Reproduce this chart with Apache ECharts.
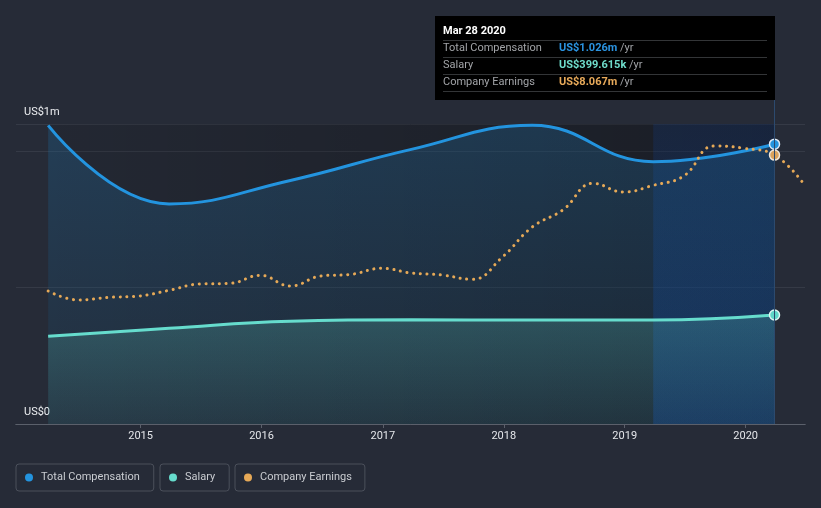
<!DOCTYPE html>
<html><head><meta charset="utf-8">
<script src="https://cdn.jsdelivr.net/npm/echarts@6/dist/echarts.min.js"></script>
<style>html,body{margin:0;padding:0;background:#262b37;}#c{width:821px;height:508px;}</style>
</head><body><div id="c"></div>
<script>
// ---- data ----
const compDates = ['2014-03-28','2015-03-28','2016-03-28','2017-03-28','2018-03-28','2019-03-28','2020-03-28'];
const totalComp = [1095000, 807000, 893000, 1007000, 1095000, 962000, 1026000];
const salary = [322000, 351000, 377000, 382000, 381000, 381000, 399615];
const earningsDates = ['2014-03-28','2014-06-28','2014-09-28','2014-12-28',
  '2015-03-28','2015-06-28','2015-09-28','2015-12-28',
  '2016-03-28','2016-06-28','2016-09-28','2016-12-28',
  '2017-03-28','2017-06-28','2017-09-28','2017-12-28',
  '2018-03-28','2018-06-28','2018-09-28','2018-12-28',
  '2019-03-28','2019-06-28','2019-09-28','2019-12-28',
  '2020-03-28','2020-06-28'];
const earnings = [3990000, 3720000, 3800000, 3840000,
  4010000, 4200000, 4220000, 4460000,
  4140000, 4440000, 4490000, 4670000,
  4530000, 4470000, 4340000, 5010000,
  5910000, 6420000, 7220000, 6960000,
  7160000, 7440000, 8340000, 8270000,
  8067000, 7150000];
const yearTicks = ['2015','2016','2017','2018','2019','2020'];
const yTickLabels = ['US$0', 'US$1m'];
const legendNames = ['Total Compensation', 'Salary', 'Company Earnings'];
const tooltipDate = 'Mar 28 2020';
const xMin = '2013-12-21', xMax = '2020-06-28';
const yMax = 1100000, yInterval = 500000, earnMax = 9000000;

// ---- chart ----
const C_BLUE = '#2394df', C_TEAL = '#66dccd', C_ORANGE = '#e6a957';
const G = echarts.graphic.LinearGradient;
const ts = s => echarts.time.parse(s).getTime();
const yearTs = yearTicks.map(y => ts(y + '-01-01'));
const chart = echarts.init(document.getElementById('c'), null, {width: 821, height: 508});
const last = compDates.length - 1;
const eLastIdx = earningsDates.indexOf(compDates[last]);

function mp(coord, fill, border) {
  return {silent: true, symbol: 'circle', symbolSize: 10, label: {show: false},
    itemStyle: {color: fill, borderColor: border, borderWidth: 1.5},
    data: [{coord: coord}]};
}

const option = {
  backgroundColor: '#262b37',
  animation: false,
  textStyle: {fontFamily: 'Roboto'},
  grid: {left: 16, right: 16, top: 124, bottom: 84},
  xAxis: [{
    type: 'value', min: ts(xMin), max: ts(xMax),
    axisLine: {lineStyle: {color: '#5b606b', width: 1}},
    axisTick: {show: true, length: 4, lineStyle: {color: '#5b606b'}, customValues: yearTs},
    axisLabel: {customValues: yearTs, formatter: v => yearTicks[yearTs.indexOf(v)] || '',
      color: '#e4e6ea', fontSize: 11, margin: 7, fontFamily: 'Roboto'},
    splitLine: {show: false}
  }, {
    type: 'value', position: 'top', min: ts(xMin), max: ts(xMax), z: 10,
    axisLine: {show: true, lineStyle: {color: '#5b606b', width: 1}},
    axisTick: {show: false}, axisLabel: {show: false}, splitLine: {show: false}
  }],
  yAxis: [{
    type: 'value', min: 0, max: yMax, interval: yInterval,
    axisLine: {show: false}, axisTick: {show: false},
    axisLabel: {inside: true, margin: 8, verticalAlign: 'bottom', padding: [0, 0, 5, 0], lineHeight: 13,
      color: '#eceef1', fontSize: 11, fontFamily: 'Roboto', showMinLabel: true, showMaxLabel: true,
      formatter: v => v === 0 ? yTickLabels[0] : (v === yMax ? yTickLabels[1] : '')},
    splitLine: {show: true, lineStyle: {color: '#353a46', width: 1}}
  }, {
    type: 'value', min: 0, max: earnMax, show: false, splitLine: {show: false}
  }],
  legend: legendNames.map((n, i) => ({
    data: [n], left: [16, 160, 235][i], top: 464, orient: 'horizontal',
    icon: 'circle', itemWidth: 14, itemHeight: 8, padding: [7, [14, 14, 13][i], 7, 9],
    borderColor: '#4b505b', borderWidth: 1, borderRadius: 3, selectedMode: false,
    textStyle: {color: '#c9ccd1', fontSize: 11, lineHeight: 13, fontFamily: 'Roboto'}
  })),
  series: [{
    name: legendNames[0], type: 'line', z: 2,
    data: compDates.map((d, i) => [ts(d), totalComp[i]]),
    smooth: 0.45, symbol: 'none',
    lineStyle: {color: C_BLUE, width: 3}, itemStyle: {color: C_BLUE},
    areaStyle: {color: new G(0, 0, 0, 1, [{offset: 0, color: 'rgba(35,148,223,0.29)'}, {offset: 1, color: 'rgba(35,148,223,0.09)'}])},
    markArea: {silent: true, label: {show: false}, data: [
      [{xAxis: ts(compDates[0]), itemStyle: {color: new G(0, 0, 1, 0, [{offset: 0, color: 'rgba(0,0,0,0.08)'}, {offset: 1, color: 'rgba(0,0,0,0.32)'}])}}, {xAxis: ts(compDates[last])}],
      [{xAxis: ts(compDates[last - 1]), itemStyle: {color: new G(0, 0, 0, 1, [{offset: 0, color: 'rgba(10,80,200,0.14)'}, {offset: 1, color: 'rgba(10,80,200,0.27)'}])}}, {xAxis: ts(compDates[last])}]
    ]},
    markPoint: mp([ts(compDates[last]), totalComp[last]], C_BLUE, '#dbe9f6')
  }, {
    name: legendNames[1], type: 'line', z: 2,
    data: compDates.map((d, i) => [ts(d), salary[i]]),
    smooth: 0.45, symbol: 'none',
    lineStyle: {color: C_TEAL, width: 3}, itemStyle: {color: C_TEAL},
    areaStyle: {color: new G(0, 0, 0, 1, [{offset: 0, color: 'rgba(102,220,205,0.30)'}, {offset: 1, color: 'rgba(102,220,205,0.10)'}])},
    markPoint: mp([ts(compDates[last]), salary[last]], '#5fd6c8', '#dff6f3')
  }, {
    name: legendNames[2], type: 'line', yAxisIndex: 1, z: 4,
    data: earningsDates.map((d, i) => [ts(d), earnings[i]]),
    smooth: 0.45, symbol: 'none',
    lineStyle: {color: C_ORANGE, width: 3, type: [0.1, 6.6], cap: 'round'}, itemStyle: {color: C_ORANGE},
    markPoint: mp([ts(earningsDates[eLastIdx]), earnings[eLastIdx]], '#d9a25c', '#efe6da')
  }]
};
chart.setOption(option);

// ---- tooltip box (as shown in the reference) ----
const xEnd = chart.convertToPixel({xAxisIndex: 0}, ts(compDates[last]));
const yBottom = chart.convertToPixel({yAxisIndex: 0}, 0);
const bw = 340, bh = 84, bx = Math.round(xEnd) - bw, by = 16;
const fmtM = v => 'US$' + (v / 1e6).toFixed(3) + 'm';
const fmtK = v => 'US$' + (v / 1e3).toFixed(3) + 'k';
const rows = [
  [legendNames[0], fmtM(totalComp[last]), '#2b93e0'],
  [legendNames[1], fmtK(salary[last]), '#6fdccb'],
  [legendNames[2], fmtM(earnings[eLastIdx]), '#e8aa5a']
];
const g = [
  {type: 'line', z: 50, shape: {x1: xEnd, y1: by + bh, x2: xEnd, y2: yBottom}, style: {stroke: '#2c4a6e', lineWidth: 1}},
  {type: 'rect', z: 50, shape: {x: bx, y: by, width: bw, height: bh}, style: {fill: '#000'}},
  {type: 'text', z: 51, x: bx + 8, y: by + 15.5, style: {text: tooltipDate, fill: '#ffffff', font: 'bold 11px Roboto', verticalAlign: 'middle'}}
];
[24.5, 41.5, 58.5, 75.5].forEach(dy => g.push({type: 'rect', z: 51, shape: {x: bx + 8, y: by + dy - 0.5, width: bw - 16, height: 1}, style: {fill: '#333537'}}));
rows.forEach((r, i) => {
  const cy = by + 32.5 + i * 17;
  g.push({type: 'text', z: 51, x: bx + 8, y: cy, style: {text: r[0], fill: '#a2a4a8', font: '11px Roboto', verticalAlign: 'middle'}});
  g.push({type: 'text', z: 51, x: bx + 124, y: cy, style: {text: '{v|' + r[1] + '} {u|/yr}', verticalAlign: 'middle', font: '11px Roboto',
    rich: {v: {fill: r[2], font: 'bold 11px Roboto'}, u: {fill: '#a2a4a8', font: '11px Roboto'}}}});
});
chart.setOption({graphic: g});
</script>
</body></html>
